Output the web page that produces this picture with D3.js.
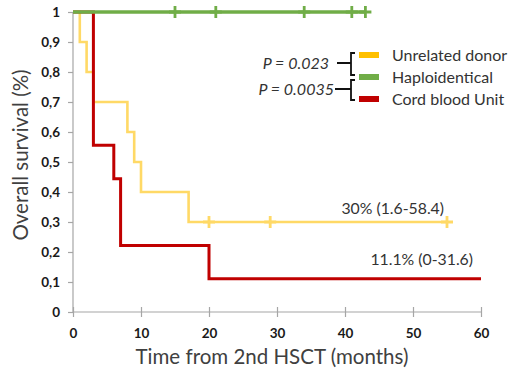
<!DOCTYPE html>
<html>
<head>
<meta charset="utf-8">
<script src="https://cdn.jsdelivr.net/npm/d3@7"></script>
<style>
  body { margin: 0; background: #fff; }
  svg { display: block; font-family: Lato, "Open Sans", sans-serif; }
</style>
</head>
<body>
<div id="grafico"></div>
<script>
// Kaplan-Meier steps
const udTime   = [0, 1, 2, 3, 8, 9, 10, 17, 55];
const udSurv   = [1, 0.9, 0.8, 0.7, 0.6, 0.5, 0.4, 0.3, 0.3];
const udCensor = [20, 29, 55];

const cbTime   = [0, 3, 6, 7, 20, 60];
const cbSurv   = [1, 0.556, 0.444, 0.222, 0.111, 0.111];

const haTime   = [0, 43];
const haSurv   = [1, 1];
const haCensor = [15, 21, 34, 41, 43];

const legendLabels = ["Unrelated donor", "Haploidentical", "Cord blood Unit"];
const legendColors = ["#FFC000", "#70AD47", "#C00000"];
const pLabels = ["P = 0.023", "P = 0.0035"];

const xTicks = [0, 10, 20, 30, 40, 50, 60];
const yTicks = [0, 0.1, 0.2, 0.3, 0.4, 0.5, 0.6, 0.7, 0.8, 0.9, 1];

const width = 512, height = 371;
const margin = { top: 12, left: 73, bottom: 59, right: 31 };

const svg = d3.select("#grafico")
              .append("svg")
              .attr("width", width)
              .attr("height", height);

const x = d3.scaleLinear().domain([0, 60]).range([margin.left, width - margin.right]);
const y = d3.scaleLinear().domain([0, 1]).range([height - margin.bottom, margin.top]);

const axisColor = "#A6A6A6";

// y axis
const yAxis = svg.append("g")
                 .attr("transform", `translate(${margin.left},0)`)
                 .call(d3.axisLeft(y).tickValues(yTicks).tickSize(5).tickPadding(8)
                         .tickFormat(d => d === 0 || d === 1 ? String(d) : d3.format(".1f")(d).replace(".", ",")));
// x axis
const xAxis = svg.append("g")
                 .attr("transform", `translate(0,${y(0)})`)
                 .call(d3.axisBottom(x).tickValues(xTicks).tickSize(5).tickPadding(11));
xAxis.selectAll(".tick line").attr("y1", -5).attr("y2", 5);

[xAxis, yAxis].forEach(a => {
  a.select(".domain").attr("stroke", axisColor).attr("stroke-width", 1.2);
  a.selectAll(".tick line").attr("stroke", axisColor).attr("stroke-width", 1.2);
  a.selectAll(".tick text").attr("fill", "#1a1a1a").attr("font-size", 13.5)
   .attr("font-weight", "bold").attr("font-family", "Lato, sans-serif");
});
yAxis.select(".domain").attr("d", `M0,${y(1)}V${y(0)}`);
xAxis.select(".domain").attr("d", `M${x(0)},0H${x(60)}`);

// axis titles
svg.append("text")
   .attr("x", 272).attr("y", 364)
   .attr("text-anchor", "middle")
   .attr("font-size", 20.5).attr("fill", "#404040")
   .text("Time from 2nd HSCT (months)");

svg.append("text")
   .attr("transform", `translate(28,155) rotate(-90)`)
   .attr("text-anchor", "middle")
   .attr("font-size", 20.5).attr("fill", "#404040")
   .text("Overall survival (%)");

const line = d3.line()
               .x(d => x(d[0]))
               .y(d => y(d[1]))
               .curve(d3.curveStepAfter);

function curve(times, surv, color, w) {
  svg.append("path")
     .datum(d3.zip(times, surv))
     .attr("fill", "none")
     .attr("stroke", color)
     .attr("stroke-width", w)
     .attr("d", line);
}

function censors(times, s, color) {
  svg.append("g").selectAll("path")
     .data(times)
     .join("path")
     .attr("d", d => `M${x(d) - 6},${y(s)}H${x(d) + 6}M${x(d)},${y(s) - 6}V${y(s) + 6}`)
     .attr("stroke", color)
     .attr("stroke-width", 2.8);
}

curve(udTime, udSurv, "#FFD966", 2.6);
censors(udCensor, 0.3, "#FFD966");
curve(cbTime, cbSurv, "#C00000", 3);
curve(haTime, haSurv, "#70AD47", 3.6);
censors(haCensor, 1, "#70AD47");

// estimates
svg.append("text")
   .attr("x", 444).attr("y", 214)
   .attr("text-anchor", "end").attr("font-size", 15.8).attr("fill", "#333")
   .text("30% (1.6-58.4)");
svg.append("text")
   .attr("x", 473).attr("y", 265)
   .attr("text-anchor", "end").attr("font-size", 15.8).attr("fill", "#333")
   .text("11.1% (0-31.6)");

// legend
const legY = [55, 77, 99];
const legend = svg.append("g");
legend.selectAll("rect")
      .data(legendColors)
      .join("rect")
      .attr("x", 359).attr("y", (d, i) => legY[i] - 3)
      .attr("width", 20).attr("height", 6)
      .attr("fill", d => d);
legend.selectAll("text")
      .data(legendLabels)
      .join("text")
      .attr("x", 392).attr("y", (d, i) => legY[i] + 6)
      .attr("font-size", 16).attr("fill", "#333")
      .text(d => d);

// p-values and brackets
const pY = [63, 89];
svg.append("g").selectAll("text")
   .data(pLabels)
   .join("text")
   .attr("x", (d, i) => i ? 334 : 329)
   .attr("y", (d, i) => pY[i] + 5.5)
   .attr("text-anchor", "end")
   .attr("font-size", 16).attr("font-style", "italic").attr("fill", "#333")
   .text(d => d);

const brackets = [[53, 75, 337], [80, 100, 335]];
svg.append("g").selectAll("path")
   .data(brackets)
   .join("path")
   .attr("fill", "none").attr("stroke", "#111").attr("stroke-width", 1.8)
   .attr("d", (b, i) => `M355,${b[0]}H351V${b[1]}H355M${b[2]},${pY[i]}H351`);
</script>
</body>
</html>
